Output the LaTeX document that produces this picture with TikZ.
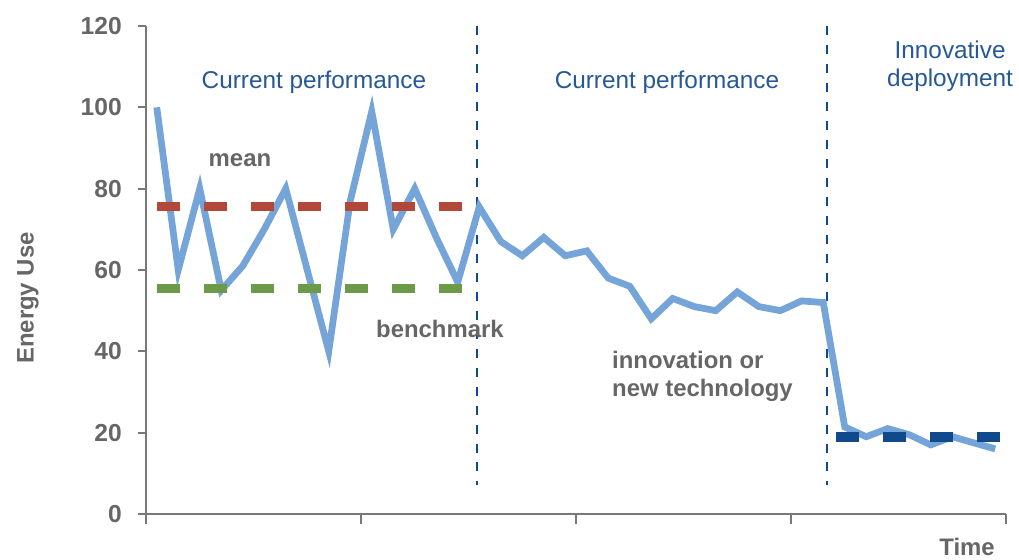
\documentclass[tikz,border=0pt]{standalone}
\usepackage{fontspec}
\setmainfont{Liberation Sans}
\usetikzlibrary{positioning}
\definecolor{lineblue}{RGB}{116,164,216}
\definecolor{meanred}{RGB}{178,72,58}
\definecolor{benchgreen}{RGB}{108,154,72}
\definecolor{darkblue}{RGB}{16,74,140}
\definecolor{textblue}{RGB}{38,88,152}
\definecolor{textgrey}{RGB}{102,102,102}
\definecolor{axisgrey}{RGB}{120,120,120}
\tikzset{
  axis/.style={axisgrey, line width=1.5pt},
  dataline/.style={lineblue, line width=4.8pt},
  levelline/.style={line width=6.4pt, dash pattern=on 16.4pt off 17pt},
  divider/.style={darkblue, line width=1.8pt, dash pattern=on 6.4pt off 7.1pt},
  phase/.style={textblue, font=\fontsize{17.3}{20}\selectfont, inner sep=0pt},
  remark/.style={textgrey, font=\fontsize{17}{20}\selectfont\bfseries, inner sep=0pt},
  ticklabel/.style={textgrey, font=\fontsize{17.5}{20}\selectfont\bfseries, inner sep=0pt, anchor=east}
}
\begin{document}
\begin{tikzpicture}[x=0.5375cm, y=0.10167cm]
            \useasboundingbox (-3.65cm,-1.15cm) rectangle (21.825cm,12.85cm);
            \def\xmax{40} \def\ymax{120}
            % axes and ticks
            \draw[axis] (0,0) -- (\xmax,0);
            \draw[axis] (0,0) ++(0,-0.25cm) -- (0,\ymax);
            \foreach \v in {0,20,...,120}{
              \draw[axis] (0,\v) -- ++(-0.2cm,0);
              \path (0,\v) ++(-0.6cm,0) node[ticklabel] (y\v) {\v};
            }
            \foreach \t in {10,20,30,40}
              \draw[axis] (\t,0) -- ++(0,-0.25cm);
            % phase dividers
            \draw[divider] (15.4,120) -- (15.4,7.1);
            \draw[divider] (31.67,120) -- (31.67,7.1);
            % energy use over time
            \draw[dataline] plot coordinates {(0.5,100) (1.5,60) (2.5,80) (3.5,55) (4.5,61)
              (5.5,70) (6.5,80) (7.5,60) (8.5,40) (9.5,77) (10.5,99) (11.5,70) (12.5,80)
              (13.5,68) (14.5,57) (15.5,75.5) (16.5,67) (17.5,63.5) (18.5,68) (19.5,63.5)
              (20.5,64.7) (21.5,58) (22.5,56) (23.5,48) (24.5,53) (25.5,51) (26.5,50)
              (27.5,54.6) (28.5,51) (29.5,50) (30.5,52.4) (31.5,52) (32.5,21.4) (33.5,19)
              (34.5,21) (35.5,19.5) (36.5,17) (37.5,19) (38.5,17.5) (39.5,16)};
            % mean, benchmark and new level
            \draw[levelline, meanred] (0.51,75.7) -- (14.79,75.7);
            \draw[levelline, benchgreen] (0.51,55.5) -- (14.79,55.5);
            \draw[levelline, darkblue, line width=7pt] (32.09,19) -- (39.77,19);
            % labels
            \node[phase] (perf1) at (7.81,106.2) {Current performance};
            \node[phase] (perf2) at (24.23,106.2) {Current performance};
            \node[phase, align=center] (deploy) at (37.4,110.1) {Innovative\\deployment};
            \node[remark] (mean) at (4.37,87) {mean};
            \node[remark] (bench) at (13.67,45.5) {benchmark};
            \node[remark, anchor=west, align=left] (innov) at (21.67,33.9) {innovation or\\new technology};
            \node[remark, rotate=90] (ylabel) at (-5.49,53.1) {Energy Use};
            \node[remark] (xlabel) at (38.19,-8.2) {Time};
        \end{tikzpicture}
\end{document}
